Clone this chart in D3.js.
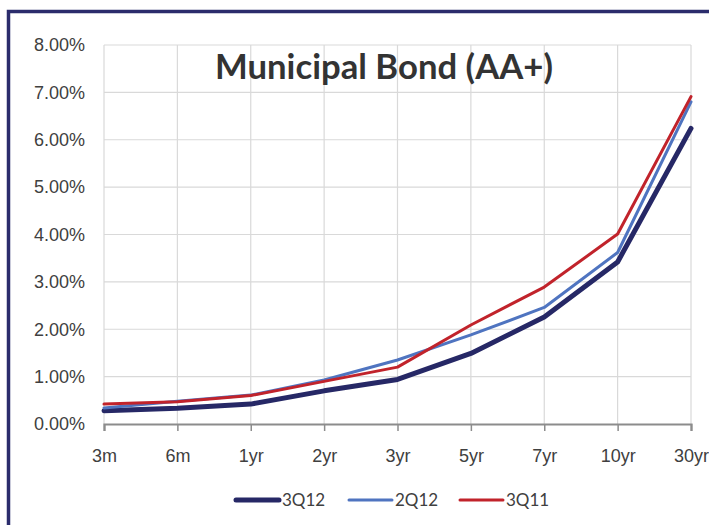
<!DOCTYPE html>
<html>
<head>
<meta charset="utf-8">
<script src="https://cdn.jsdelivr.net/npm/d3@7"></script>
<style>
  html, body { margin: 0; padding: 0; background: #ffffff; }
  svg { display: block; }
</style>
</head>
<body>
<svg id="chart" width="709" height="525"></svg>
<script>
// Municipal bond (AA+) yield curves by maturity
const maturities = ["3m", "6m", "1yr", "2yr", "3yr", "5yr", "7yr", "10yr", "30yr"];
const yields3Q12 = [0.28, 0.33, 0.42, 0.70, 0.94, 1.49, 2.26, 3.42, 6.24];
const yields2Q12 = [0.34, 0.48, 0.61, 0.93, 1.35, 1.88, 2.46, 3.62, 6.80];
const yields3Q11 = [0.42, 0.47, 0.60, 0.90, 1.20, 2.09, 2.89, 4.01, 6.91];
const seriesNames = ["3Q12", "2Q12", "3Q11"];
const yTicks = [0, 1, 2, 3, 4, 5, 6, 7, 8];

const series = [
  { name: seriesNames[0], values: yields3Q12, color: "#262866", width: 5 },
  { name: seriesNames[1], values: yields2Q12, color: "#4f74c0", width: 3 },
  { name: seriesNames[2], values: yields3Q11, color: "#c1232b", width: 3 }
];

const svg = d3.select("#chart");

// outer frame
svg.append("rect")
  .attr("x", 8.5).attr("y", 11.5)
  .attr("width", 760).attr("height", 560)
  .attr("fill", "none")
  .attr("stroke", "#2b2c6c")
  .attr("stroke-width", 3.5);

const plot = { left: 104, right: 691, top: 45, bottom: 424 };

const x = d3.scalePoint().domain(maturities).range([plot.left, plot.right]);
const y = d3.scaleLinear().domain([0, 8]).range([plot.bottom, plot.top]);

// horizontal gridlines
svg.append("g")
  .selectAll("line")
  .data(yTicks.filter(d => d > 0))
  .join("line")
  .attr("x1", plot.left).attr("x2", plot.right)
  .attr("y1", d => y(d)).attr("y2", d => y(d))
  .attr("stroke", "#d9d9d9").attr("stroke-width", 1.2);

// vertical gridlines
svg.append("g")
  .selectAll("line")
  .data(maturities)
  .join("line")
  .attr("x1", d => x(d)).attr("x2", d => x(d))
  .attr("y1", plot.top).attr("y2", plot.bottom)
  .attr("stroke", "#d9d9d9").attr("stroke-width", 1.2);

// y axis labels
const yAxis = d3.axisLeft(y)
  .tickValues(yTicks)
  .tickFormat(d => d3.format(".2f")(d) + "%")
  .tickSize(0)
  .tickPadding(19);
const gy = svg.append("g")
  .attr("transform", `translate(${plot.left},0)`)
  .call(yAxis);
gy.select(".domain").remove();
gy.selectAll("text")
  .attr("font-family", "'Liberation Sans', Arial, sans-serif")
  .attr("font-size", 18)
  .attr("fill", "#404040");

// x axis
const xAxis = d3.axisBottom(x).tickSize(7).tickPadding(18);
const gx = svg.append("g")
  .attr("transform", `translate(0,${plot.bottom})`)
  .call(xAxis);
gx.select(".domain")
  .attr("stroke", "#8c8c8c").attr("stroke-width", 2.2);
gx.selectAll(".tick line")
  .attr("stroke", "#8c8c8c").attr("stroke-width", 1.5);
gx.selectAll("text")
  .attr("font-family", "'Liberation Sans', Arial, sans-serif")
  .attr("font-size", 18)
  .attr("fill", "#404040");

// series lines
const line = d3.line()
  .x((d, i) => x(maturities[i]))
  .y(d => y(d));

svg.append("g")
  .selectAll("path")
  .data(series)
  .join("path")
  .attr("d", d => line(d.values))
  .attr("fill", "none")
  .attr("stroke", d => d.color)
  .attr("stroke-width", d => d.width)
  .attr("stroke-linejoin", "round")
  .attr("stroke-linecap", "round");

// title
svg.append("text")
  .attr("x", 384).attr("y", 79)
  .attr("text-anchor", "middle")
  .attr("font-family", "Lato, 'Open Sans', sans-serif")
  .attr("font-weight", "bold")
  .attr("font-size", 35)
  .attr("textLength", 338)
  .attr("lengthAdjust", "spacingAndGlyphs")
  .attr("fill", "#333333")
  .text("Municipal Bond (AA+)");

// legend
const legendX = [236, 349, 460];
const legend = svg.append("g")
  .selectAll("g")
  .data(series)
  .join("g")
  .attr("transform", (d, i) => `translate(${legendX[i]},500)`);
legend.append("line")
  .attr("x1", 0).attr("x2", 43)
  .attr("y1", 0).attr("y2", 0)
  .attr("stroke", d => d.color)
  .attr("stroke-width", d => d.width)
  .attr("stroke-linecap", "round");
legend.append("text")
  .attr("x", 46).attr("y", 6)
  .attr("font-family", "Lato, 'Open Sans', sans-serif")
  .attr("font-size", 17)
  .attr("fill", "#404040")
  .text(d => d.name);
</script>
</body>
</html>
